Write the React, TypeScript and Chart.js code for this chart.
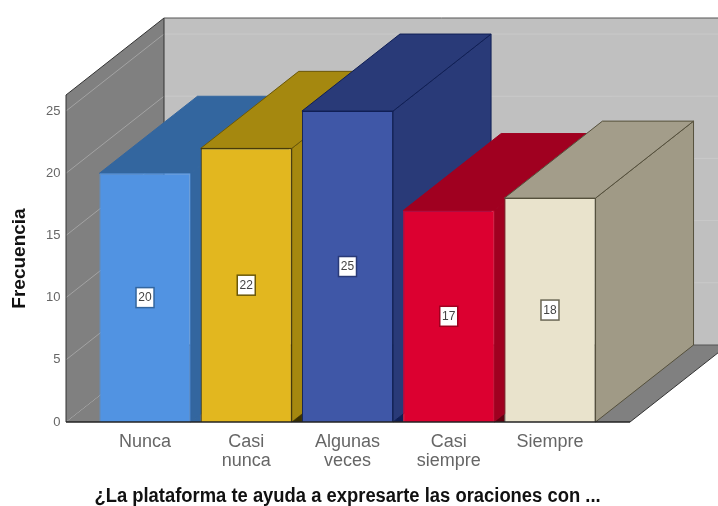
import React, { useEffect, useRef } from "react";
import { Chart, registerables } from "chart.js";

Chart.register(...registerables);

const categories = [["Nunca"], ["Casi", "nunca"], ["Algunas", "veces"], ["Casi", "siempre"], ["Siempre"]];
const frequencies = [20, 22, 25, 17, 18];
const frontColors = ["#5193e2", "#e2b71f", "#3f57a7", "#dc0030", "#e9e3cc"];
const frontEdges = ["#5193e2", "#2e2400", "#101f55", "#dc0030", "#55503c"];
const sideColors = ["#33669f", "#a5880f", "#293a78", "#a00020", "#a09a86"];
const topColors = ["#33669f", "#a5880f", "#293a78", "#a00020", "#a39d8a"];
const depthEdges = ["#33669f", "#6b5808", "#101f55", "#a00020", "#55503c"];
const gapColors = ["#33669f", "#3a3000", "#101f55", "#600010", "#808080"];
const labelEdges = ["#33669f", "#6b5808", "#293a78", "#a00020", "#6b6755"];
const xTitle = "¿La plataforma te ayuda a expresarte las oraciones con ...";
const yTitle = "Frecuencia";

const DEPTH_X = 98;
const DEPTH_Y = 77;
const FONT = "'Liberation Sans', Arial, sans-serif";

function poly(ctx: CanvasRenderingContext2D, pts: number[][], fill: string | null, stroke: string | null, lw = 1) {
  ctx.beginPath();
  pts.forEach((p, i) => (i ? ctx.lineTo(p[0], p[1]) : ctx.moveTo(p[0], p[1])));
  ctx.closePath();
  if (fill) {
    ctx.fillStyle = fill;
    ctx.fill();
  }
  if (stroke) {
    ctx.strokeStyle = stroke;
    ctx.lineWidth = lw;
    ctx.stroke();
  }
}

const box3d = {
  id: "box3d",
  beforeDatasetsDraw(chart: any) {
    const { ctx, chartArea: a, scales } = chart;
    const y = scales.y;
    const L = a.left - 28.4;
    const R = a.right + 29.4;
    const T = a.top;
    const B = a.bottom;
    ctx.save();
    // back wall
    poly(ctx, [[L + DEPTH_X, T - DEPTH_Y], [R + DEPTH_X, T - DEPTH_Y], [R + DEPTH_X, B - DEPTH_Y], [L + DEPTH_X, B - DEPTH_Y]], "#c0c0c0", null);
    // left wall
    poly(ctx, [[L, T], [L + DEPTH_X, T - DEPTH_Y], [L + DEPTH_X, B - DEPTH_Y], [L, B]], "#808080", null);
    // floor
    poly(ctx, [[L, B], [L + DEPTH_X, B - DEPTH_Y], [R + DEPTH_X, B - DEPTH_Y], [R, B]], "#808080", null);
    // gridlines follow the value ticks
    y.ticks.forEach((t: any) => {
      if (t.value === 0) return;
      const py = y.getPixelForValue(t.value);
      ctx.lineWidth = 1;
      ctx.strokeStyle = "#a3a3a3";
      ctx.beginPath();
      ctx.moveTo(L, py);
      ctx.lineTo(L + DEPTH_X, py - DEPTH_Y);
      ctx.stroke();
      ctx.strokeStyle = "#c9c9c9";
      ctx.beginPath();
      ctx.moveTo(L + DEPTH_X, py - DEPTH_Y);
      ctx.lineTo(R + DEPTH_X, py - DEPTH_Y);
      ctx.stroke();
    });
    // wall edges
    ctx.lineWidth = 1;
    ctx.strokeStyle = "#333333";
    ctx.beginPath();
    ctx.moveTo(L, B);
    ctx.lineTo(L, T);
    ctx.lineTo(L + DEPTH_X, T - DEPTH_Y);
    ctx.lineTo(L + DEPTH_X, B - DEPTH_Y);
    ctx.stroke();
    ctx.strokeStyle = "#555555";
    ctx.beginPath();
    ctx.moveTo(L + DEPTH_X, T - DEPTH_Y);
    ctx.lineTo(R + DEPTH_X, T - DEPTH_Y);
    ctx.moveTo(L + DEPTH_X, B - DEPTH_Y);
    ctx.lineTo(R + DEPTH_X, B - DEPTH_Y);
    ctx.stroke();
    ctx.strokeStyle = "#333333";
    ctx.beginPath();
    ctx.moveTo(R, B);
    ctx.lineTo(R + DEPTH_X, B - DEPTH_Y);
    ctx.stroke();
    // bar depth faces, painted left to right
    const bars = chart.getDatasetMeta(0).data;
    bars.forEach((bar: any, i: number) => {
      const w = bar.width / 2;
      const x0 = bar.x - w;
      const x1 = bar.x + w;
      const top = bar.y;
      const base = bar.base;
      poly(ctx, [[x1, top], [x1 + DEPTH_X, top - DEPTH_Y], [x1 + DEPTH_X, base - DEPTH_Y], [x1, base]], sideColors[i], depthEdges[i]);
      poly(ctx, [[x0, top], [x1, top], [x1 + DEPTH_X, top - DEPTH_Y], [x0 + DEPTH_X, top - DEPTH_Y]], topColors[i], depthEdges[i]);
      // shadow wedge on the floor between neighbouring bars
      const next = bars[i + 1];
      if (next) {
        const nx = next.x - next.width / 2;
        const gap = nx - x1;
        poly(ctx, [[x1, base], [nx, base], [nx, base - (gap * DEPTH_Y) / DEPTH_X]], gapColors[i], null);
      }
    });
    ctx.restore();
  },
  afterDatasetsDraw(chart: any) {
    const { ctx, chartArea: a, scales } = chart;
    const L = a.left - 28.4;
    const R = a.right + 29.4;
    ctx.save();
    // front floor edge
    ctx.strokeStyle = "#222222";
    ctx.lineWidth = 1.5;
    ctx.beginPath();
    ctx.moveTo(L, a.bottom);
    ctx.lineTo(R, a.bottom);
    ctx.stroke();
    // value labels at the middle of each bar
    chart.getDatasetMeta(0).data.forEach((bar: any, i: number) => {
      const cy = scales.y.getPixelForValue(frequencies[i] / 2);
      const bw = 18;
      const bh = 20;
      ctx.fillStyle = "#ffffff";
      ctx.fillRect(bar.x - bw / 2, cy - bh / 2, bw, bh);
      ctx.strokeStyle = labelEdges[i];
      ctx.lineWidth = 1.5;
      ctx.strokeRect(bar.x - bw / 2, cy - bh / 2, bw, bh);
      ctx.fillStyle = "#444444";
      ctx.font = `12px ${FONT}`;
      ctx.textAlign = "center";
      ctx.textBaseline = "middle";
      ctx.fillText(String(frequencies[i]), bar.x, cy + 0.5);
    });
    ctx.restore();
  },
};

export default function App() {
  const ref = useRef<HTMLCanvasElement>(null);
  useEffect(() => {
    document.body.style.margin = "0";
    document.body.style.background = "#ffffff";
    const chart = new Chart(ref.current as HTMLCanvasElement, {
      type: "bar",
      data: {
        labels: categories as any,
        datasets: [
          {
            label: yTitle,
            data: frequencies,
            backgroundColor: frontColors,
            borderColor: frontEdges,
            borderWidth: 1,
            barPercentage: 0.9,
            categoryPercentage: 1,
          },
        ],
      },
      options: {
        responsive: false,
        animation: false,
        layout: { padding: { top: 95, right: 117.4, left: 0, bottom: 0 } },
        plugins: { legend: { display: false }, tooltip: { enabled: false } },
        scales: {
          x: {
            grid: { display: false, drawTicks: false },
            border: { display: false },
            afterFit: (s: any) => {
              s.height = 84;
            },
            ticks: {
              color: "#666666",
              font: { family: FONT, size: 18, lineHeight: 1.06 },
              padding: 10,
              maxRotation: 0,
              autoSkip: false,
            },
            title: {
              display: true,
              text: xTitle,
              color: "#111111",
              font: { family: FONT, size: 19.5, weight: "bold", lineHeight: 1 },
              padding: { top: -10, bottom: 0 },
            },
          },
          y: {
            min: 0,
            max: 26.29,
            grid: { display: false, drawTicks: false },
            border: { display: false },
            afterFit: (s: any) => {
              s.width = 94.4;
            },
            ticks: {
              stepSize: 5,
              includeBounds: false,
              color: "#666666",
              font: { family: FONT, size: 13 },
              padding: 34,
            },
            title: {
              display: true,
              text: yTitle,
              color: "#111111",
              font: { family: FONT, size: 19, weight: "bold", lineHeight: 1 },
              padding: { top: 10.5, bottom: 0 },
            },
          },
        },
      },
      plugins: [box3d],
    } as any);
    return () => chart.destroy();
  }, []);
  return <canvas ref={ref} width={718} height={506} style={{ display: "block" }} />;
}
